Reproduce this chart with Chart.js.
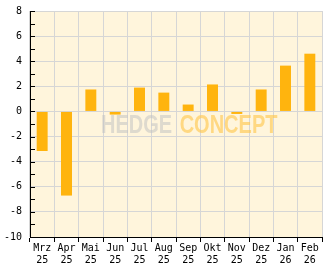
<!DOCTYPE html>
<html><head><meta charset="utf-8">
<script src="https://cdn.jsdelivr.net/npm/chart.js@4/dist/chart.umd.min.js"></script>
<style>html,body{margin:0;padding:0;background:#fff}#wrap{width:332px;height:269px}</style>
</head><body><div id="wrap"><canvas id="c" width="332" height="269"></canvas></div>
<script>
const months = ['Mrz','Apr','Mai','Jun','Jul','Aug','Sep','Okt','Nov','Dez','Jan','Feb'];
const years = ['25','25','25','25','25','25','25','25','25','25','26','26'];
const values = [-3.15,-6.7,1.75,-0.25,1.9,1.5,0.55,2.15,-0.2,1.75,3.65,4.6];
const yMin = -10, yMax = 8;

const bgPlugin = {
  id:'bg',
  beforeDraw(chart){
    const {ctx, chartArea:a} = chart;
    ctx.save(); ctx.fillStyle='#FFF5DC'; ctx.fillRect(a.left,a.top,a.right-a.left,a.bottom-a.top); ctx.restore();
  },
  afterDatasetsDraw(chart){
    const {ctx} = chart;
    ctx.save();
    ctx.font = 'bold 20px "Liberation Sans Narrow", "Liberation Sans", sans-serif';
    ctx.textBaseline = 'alphabetic';
    ctx.translate(101, 133);
    ctx.scale(1, 1.3);
    ctx.fillStyle = 'rgba(195,195,195,0.55)';
    ctx.fillText('HEDGE', 0, 0);
    const w = ctx.measureText('HEDGE ').width;
    ctx.fillStyle = 'rgba(255,196,70,0.6)';
    ctx.fillText('CONCEPT', w + 2, 0);
    ctx.restore();
    // inner tick marks on the y axis
    const ys = chart.scales.y;
    const x0 = chart.chartArea.left;
    ctx.save();
    ctx.fillStyle = '#000';
    for (let v = yMin; v <= yMax; v++) {
      const py = Math.round(ys.getPixelForValue(v));
      ctx.fillRect(x0, py, 5, 1);
    }
    ctx.restore();
  }
};

new Chart(document.getElementById('c'), {
  type:'bar',
  data:{
    labels: months.map((m,i)=>[m, years[i]]),
    datasets:[{data:values, backgroundColor:'#FFB40E', borderWidth:0, barPercentage:0.5, categoryPercentage:0.9}]
  },
  options:{
    responsive:false, animation:false, devicePixelRatio:1,
    layout:{padding:{top:11,right:10,left:0,bottom:0}},
    plugins:{legend:{display:false}, tooltip:{enabled:false}},
    scales:{
      x:{
        offset:true,
        grid:{offset:true, color:'#D6D6D6', tickColor:'#000', tickLength:5, lineWidth:1},
        border:{color:'#000', width:1},
        ticks:{color:'#000', font:{family:'"DejaVu Sans Mono", monospace', size:10, lineHeight:1.2}, padding:0, maxRotation:0, autoSkip:false},
        afterFit(s){ s.height = 32; s.paddingLeft = 0; s.paddingRight = 0; }
      },
      y:{
        min:yMin, max:yMax,
        grid:{
          color:(c)=> (c.tick && Math.abs(c.tick.value)%2===1) ? 'rgba(0,0,0,0)' : '#D6D6D6',
          drawTicks:false, lineWidth:1
        },
        border:{color:'#000', width:1},
        ticks:{stepSize:1, color:'#000', font:{family:'"DejaVu Sans Mono", monospace', size:10}, padding:8,
          callback:(v)=> (Math.abs(v)%2===1) ? '' : String(v)},
        afterFit(s){ s.width = 30; s.paddingTop = 0; s.paddingBottom = 0; }
      }
    }
  },
  plugins:[bgPlugin]
});
</script></body></html>
